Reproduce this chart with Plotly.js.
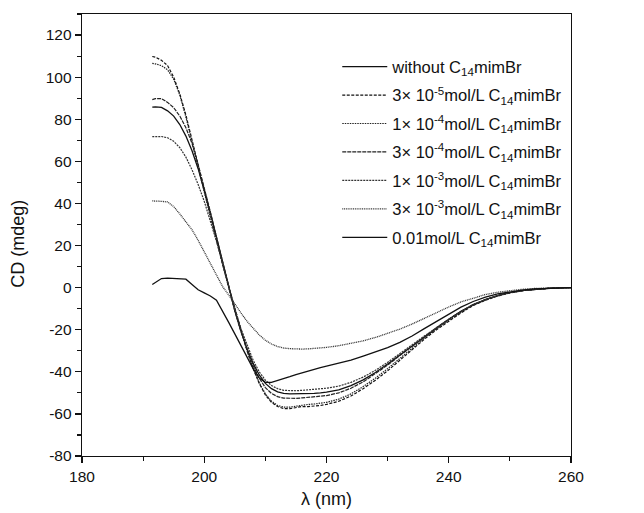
<!DOCTYPE html>
<html>
<head>
<meta charset="utf-8">
<script src="https://cdn.plot.ly/plotly-3.0.1.min.js"></script>
<style>html,body{margin:0;padding:0;background:#fff;}#chart{width:644px;height:513px;}</style>
</head>
<body>
<div id="chart"></div>
<script>
const wavelength = [191.5,192,193,194,195,196,197,198,199,200,201,202,203,204,205,206,207,208,209,210,211,212,213,214,215,216,217,218,219,220,222,224,226,228,230,232,234,236,238,240,242,244,246,248,250,252,254,256,258,260];

const seriesNames = [
  "without C<sub>14</sub>mimBr",
  "3× 10<sup>-5</sup>mol/L C<sub>14</sub>mimBr",
  "1× 10<sup>-4</sup>mol/L C<sub>14</sub>mimBr",
  "3× 10<sup>-4</sup>mol/L C<sub>14</sub>mimBr",
  "1× 10<sup>-3</sup>mol/L C<sub>14</sub>mimBr",
  "3× 10<sup>-3</sup>mol/L C<sub>14</sub>mimBr",
  "0.01mol/L C<sub>14</sub>mimBr"
];

const cdWithout = [85.8,85.9,85.6,84,81.5,77.5,72,65,56.5,46.5,35.5,24,12,0,-11,-20.5,-29,-36,-41.5,-45.5,-48,-49.5,-50.2,-50.5,-50.5,-50.4,-50.3,-50.2,-50,-49.7,-48.6,-46.6,-43.8,-40.3,-36.3,-32,-27.6,-23.2,-19,-15,-11.3,-8.1,-5.7,-3.8,-2.4,-1.4,-0.8,-0.4,-0.1,0];
const cd3e5 = [109.8,109.5,108,105.5,100,92,82,70,58,46,34,22.5,11,0.5,-10,-20,-30,-38.5,-45.5,-51,-54.5,-56.5,-57.5,-57.5,-57,-56.5,-56.5,-56.3,-56,-55.5,-54,-51.5,-48,-44,-39.5,-34.5,-29.5,-24.5,-20,-16,-12,-8.5,-6,-4,-2.5,-1.5,-0.8,-0.4,-0.1,0];
const cd1e4 = [106.5,106.3,105.5,103.5,99,91.5,81,69.5,57.5,45.5,33.5,22,10.5,0,-10.5,-20.5,-30,-38.3,-45.2,-50.5,-54,-56,-56.8,-56.8,-56.3,-55.8,-55.5,-55.3,-55,-54.5,-53,-50.5,-47,-43,-38.5,-33.5,-28.8,-24,-19.5,-15.5,-11.6,-8.3,-5.8,-3.8,-2.4,-1.4,-0.8,-0.4,-0.1,0];
const cd3e4 = [89.3,89.8,89.8,88,85.5,81.5,76,68.5,58.5,47.5,36,24,12,0,-11,-21,-29.5,-37,-43,-47.5,-50.3,-51.8,-52.5,-52.7,-52.6,-52.4,-52.2,-52,-51.7,-51.3,-50,-47.8,-44.8,-41,-36.8,-32.3,-27.8,-23.3,-19,-15,-11.3,-8.1,-5.7,-3.8,-2.4,-1.4,-0.8,-0.4,-0.1,0];
const cd1e3 = [71.7,71.8,71.8,71.2,69.5,66.5,62,56,49,41,32,22,11.5,0.5,-10,-19.5,-27.5,-34.5,-40,-44,-46.5,-48,-48.8,-49,-49,-48.8,-48.6,-48.4,-48.1,-47.8,-46.8,-45,-42.5,-39.3,-35.5,-31.5,-27.2,-23,-19,-15,-11.3,-8.1,-5.7,-3.8,-2.4,-1.4,-0.8,-0.4,-0.1,0];
const cd3e3 = [41.2,41.2,41,40.7,38.5,35,31.5,27.5,22.5,17,11.5,5.5,0.5,-3.5,-8,-12,-16,-19.5,-22.5,-25,-26.8,-28,-28.7,-29,-29.2,-29.2,-29.1,-28.9,-28.7,-28.4,-27.6,-26.6,-25.3,-23.7,-21.8,-19.7,-17.3,-14.6,-11.8,-9.2,-6.8,-4.9,-3.3,-2.2,-1.4,-0.8,-0.4,-0.1,0,0];
const cd001 = [1.5,2.5,4.3,4.5,4.4,4.3,4,1.5,-1,-2.5,-4,-6,-11,-16.5,-22,-27.5,-33,-38.5,-43,-45,-45,-44.2,-43.3,-42.3,-41.3,-40.4,-39.6,-38.8,-38,-37.3,-36,-34.5,-32.5,-30.5,-28.5,-26,-23,-19.5,-16,-12.5,-9.3,-6.6,-4.5,-3,-2,-1.2,-0.6,-0.3,-0.1,0];

const xTicks = [180,200,220,240,260];
const yTicks = [-80,-60,-40,-20,0,20,40,60,80,100,120];
const xTitle = "λ (nm)";
const yTitle = "CD (mdeg)";

const allSeries = [cdWithout, cd3e5, cd1e4, cd3e4, cd1e3, cd3e3, cd001];
const dashes = ["solid","3px,1.5px","1.5px,1px","4px,1px","2px,1px","1px,0.8px","solid"];
const widths = [1.3,1.2,1.2,1.2,1.2,1.3,1.3];
const colors = ["#111","#111","#222","#222","#333","#333","#111"];

const traces = allSeries.map((ys, i) => ({
  x: wavelength,
  y: ys,
  name: seriesNames[i],
  legendgroup: "g" + i,
  type: "scatter",
  mode: "lines",
  line: {color: colors[i], width: widths[i], dash: dashes[i]}
}));

const layout = {
  width: 644, height: 513,
  margin: {l: 82, r: 73, t: 14, b: 57},
  paper_bgcolor: "#fff", plot_bgcolor: "#fff",
  font: {family: "Liberation Sans, Arial, sans-serif", color: "#111", size: 15},
  showlegend: true,
  legend: {
    x: 0.522, y: 0.92, xanchor: "left", yanchor: "top",
    bgcolor: "rgba(0,0,0,0)", borderwidth: 0,
    font: {size: 16.5, color: "#111"},
    itemwidth: 45,
    tracegroupgap: 4
  },
  xaxis: {
    range: [180, 260],
    tickvals: xTicks, ticktext: xTicks.map(String),
    ticks: "outside", ticklen: 6, tickwidth: 1.2, tickcolor: "#111",
    minor: {dtick: 10, tick0: 180, ticks: "outside", ticklen: 4, tickwidth: 1.2, tickcolor: "#111"},
    showline: true, mirror: true, linecolor: "#111", linewidth: 1.3,
    showgrid: false, zeroline: false,
    tickfont: {size: 15.5},
    title: {text: xTitle, font: {size: 18}, standoff: 8}
  },
  yaxis: {
    range: [-80, 130],
    tickvals: yTicks, ticktext: yTicks.map(String),
    ticks: "outside", ticklen: 6, tickwidth: 1.2, tickcolor: "#111",
    minor: {dtick: 10, tick0: 0, ticks: "outside", ticklen: 4, tickwidth: 1.2, tickcolor: "#111"},
    showline: true, mirror: true, linecolor: "#111", linewidth: 1.3,
    showgrid: false, zeroline: false,
    tickfont: {size: 15.5}
  },
  annotations: [{
    text: yTitle, xref: "paper", yref: "paper",
    x: -0.131, y: 0.48, xanchor: "center", yanchor: "middle",
    textangle: -90, showarrow: false, font: {size: 18, color: "#111"}
  }]
};

Plotly.newPlot("chart", traces, layout, {displayModeBar: false, staticPlot: true});
</script>
</body>
</html>
